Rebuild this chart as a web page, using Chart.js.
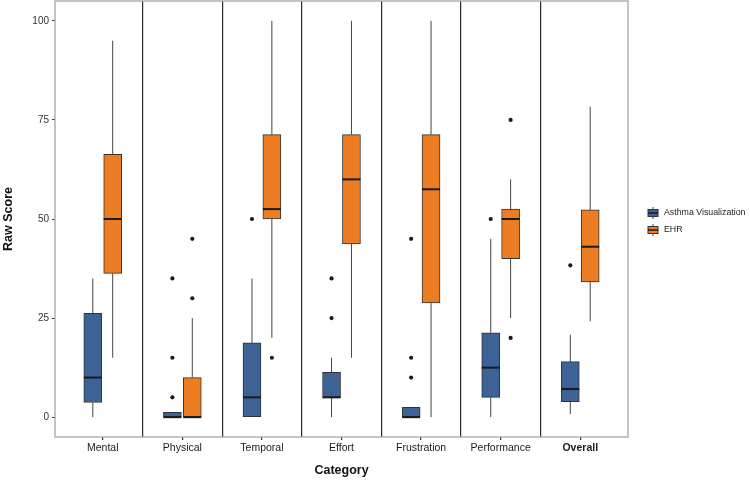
<!DOCTYPE html>
<html>
<head>
<meta charset="utf-8">
<script src="https://cdn.jsdelivr.net/npm/chart.js@4/dist/chart.umd.min.js"></script>
<style>
  html, body { margin: 0; padding: 0; background: #fff; }
  #wrap { width: 750px; height: 483px; }
</style>
</head>
<body>
<div id="wrap"><canvas id="chart" width="750" height="483"></canvas></div>
<script>
// categories and box statistics
var categories = ['Mental', 'Physical', 'Temporal', 'Effort', 'Frustration', 'Performance', 'Overall'];
var groupNames = ['Asthma Visualization', 'EHR'];
var yTicks = [0, 25, 50, 75, 100];

var asthmaMin    = [0, 0, 0, 0, 0, 0, 0.8];
var asthmaQ1     = [3.7, 0, 0, 5, 0, 5, 3.9];
var asthmaMedian = [10, 0, 5, 5, 0, 12.5, 7.1];
var asthmaQ3     = [26.2, 1.2, 18.75, 11.3, 2.5, 21.3, 14.0];
var asthmaMax    = [35, 1.2, 35, 15, 2.5, 45, 20.8];
var asthmaOutliers = [[], [35, 15, 5], [50], [35, 25], [45, 15, 10], [50], [38.3]];

var ehrMin    = [15, 0, 20, 15, 0, 25, 24.2];
var ehrQ1     = [36.3, 0, 50, 43.7, 28.8, 40, 34.1];
var ehrMedian = [50, 0, 52.5, 60, 57.5, 50, 43];
var ehrQ3     = [66.3, 10, 71.3, 71.3, 71.3, 52.5, 52.3];
var ehrMax    = [95, 25, 100, 100, 100, 60, 78.3];
var ehrOutliers = [[], [45, 30], [15], [], [], [75, 20], []];

var colors = ['#3c6296', '#ec7d23'];
var DODGE = 0.125;
var FONT = "'Liberation Sans', Arial, sans-serif";

var groups = [
  {min: asthmaMin, q1: asthmaQ1, med: asthmaMedian, q3: asthmaQ3, max: asthmaMax, out: asthmaOutliers, shift: -DODGE},
  {min: ehrMin, q1: ehrQ1, med: ehrMedian, q3: ehrQ3, max: ehrMax, out: ehrOutliers, shift: DODGE}
];

var datasets = [];
// outlier points first so they are drawn on top
groups.forEach(function(g, k){
  var pts = [];
  g.out.forEach(function(list, i){
    list.forEach(function(v){ pts.push({x: i + 1 + g.shift, y: v}); });
  });
  datasets.push({
    type: 'scatter', label: groupNames[k] + ' outliers', data: pts,
    pointRadius: 2.1, pointBackgroundColor: '#1a1a1a', pointBorderWidth: 0
  });
});
groups.forEach(function(g, k){
  datasets.push({
    type: 'bar', label: groupNames[k],
    data: categories.map(function(c, i){ return {x: i + 1 + g.shift, y: [g.q1[i], g.q3[i]]}; }),
    backgroundColor: colors[k], borderColor: '#333', borderWidth: 1, borderSkipped: false,
    barThickness: 18, maxBarThickness: 18, grouped: false
  });
});

var xTickValues = [];
for (var i = 1; i <= categories.length; i++) {
  xTickValues.push(i);
  if (i < categories.length) xTickValues.push(i + 0.5);
}

function barMeta(chart, k){ return chart.getDatasetMeta(groups.length + k); }

var boxParts = {
  id: 'boxParts',
  beforeDatasetsDraw: function(chart){
    var ctx = chart.ctx, y = chart.scales.y;
    ctx.save();
    ctx.strokeStyle = '#444';
    ctx.lineWidth = 1;
    groups.forEach(function(g, k){
      barMeta(chart, k).data.forEach(function(bar, i){
        ctx.beginPath();
        ctx.moveTo(bar.x, y.getPixelForValue(g.min[i]));
        ctx.lineTo(bar.x, y.getPixelForValue(g.q1[i]));
        ctx.moveTo(bar.x, y.getPixelForValue(g.q3[i]));
        ctx.lineTo(bar.x, y.getPixelForValue(g.max[i]));
        ctx.stroke();
      });
    });
    ctx.restore();
  },
  afterDatasetsDraw: function(chart){
    var ctx = chart.ctx, y = chart.scales.y, a = chart.chartArea;
    ctx.save();
    ctx.strokeStyle = '#1a1a1a';
    ctx.lineWidth = 2;
    groups.forEach(function(g, k){
      barMeta(chart, k).data.forEach(function(bar, i){
        var py = y.getPixelForValue(g.med[i]);
        ctx.beginPath();
        ctx.moveTo(bar.x - bar.width / 2, py);
        ctx.lineTo(bar.x + bar.width / 2, py);
        ctx.stroke();
      });
    });
    ctx.strokeStyle = '#a6a6a6';
    ctx.lineWidth = 1.3;
    ctx.strokeRect(a.left, a.top, a.right - a.left, a.bottom - a.top);
    ctx.restore();
  },
  afterDraw: function(chart){
    // ggplot style legend with boxplot keys
    var ctx = chart.ctx;
    ctx.save();
    groupNames.forEach(function(name, k){
      var cx = 653, cy = 213 + k * 17;
      ctx.strokeStyle = '#444';
      ctx.lineWidth = 1;
      ctx.beginPath();
      ctx.moveTo(cx, cy - 6); ctx.lineTo(cx, cy + 6);
      ctx.stroke();
      ctx.fillStyle = colors[k];
      ctx.fillRect(cx - 5, cy - 3.5, 10, 7);
      ctx.strokeStyle = '#333';
      ctx.strokeRect(cx - 5, cy - 3.5, 10, 7);
      ctx.strokeStyle = '#1a1a1a';
      ctx.lineWidth = 1.5;
      ctx.beginPath();
      ctx.moveTo(cx - 5, cy); ctx.lineTo(cx + 5, cy);
      ctx.stroke();
      ctx.fillStyle = '#222';
      ctx.font = '8.8px ' + FONT;
      ctx.textBaseline = 'middle';
      ctx.textAlign = 'left';
      ctx.fillText(name, 664, cy);
    });
    ctx.restore();
  }
};

function noEdgePadding(scale){
  scale.paddingTop = 0; scale.paddingBottom = 0;
  scale.paddingLeft = 0; scale.paddingRight = 0;
}

new Chart(document.getElementById('chart'), {
  type: 'bar',
  data: { datasets: datasets },
  options: {
    responsive: false,
    animation: false,
    layout: { autoPadding: false, padding: { top: 1, right: 122, left: 0, bottom: 0 } },
    plugins: { legend: { display: false }, tooltip: { enabled: false } },
    scales: {
      x: {
        type: 'linear', min: 0.4, max: 7.6, offset: false,
        afterBuildTicks: function(scale){ scale.ticks = xTickValues.map(function(v){ return {value: v}; }); },
        afterFit: function(scale){ scale.height = 46; noEdgePadding(scale); },
        ticks: {
          autoSkip: false, maxRotation: 0, padding: 2, color: '#1a1a1a',
          font: function(c){ return {family: FONT, size: 10.5, weight: (c.tick && c.tick.value === categories.length) ? 'bold' : 'normal'}; },
          callback: function(v){ return Number.isInteger(v) ? categories[v - 1] : ''; }
        },
        grid: {
          drawOnChartArea: true, tickLength: 3, lineWidth: 1.2, offset: false,
          color: function(c){ return (c.tick && !Number.isInteger(c.tick.value)) ? '#2a2a2a' : 'rgba(0,0,0,0)'; },
          tickColor: function(c){ return (c.tick && Number.isInteger(c.tick.value)) ? '#333' : 'rgba(0,0,0,0)'; }
        },
        border: { display: false },
        title: { display: true, text: 'Category', color: '#111', padding: { top: 0, bottom: 5 },
                 font: { family: FONT, size: 12.5, weight: 'bold' } }
      },
      y: {
        min: -5, max: 105,
        afterBuildTicks: function(scale){ scale.ticks = yTicks.map(function(v){ return {value: v}; }); },
        afterFit: function(scale){ scale.width = 55; noEdgePadding(scale); },
        ticks: { padding: 3, color: '#333', font: { family: FONT, size: 10 } },
        grid: { drawOnChartArea: false, tickLength: 3, tickColor: '#333' },
        border: { display: false },
        title: { display: true, text: 'Raw Score', color: '#111', padding: { top: 1, bottom: 0 },
                 font: { family: FONT, size: 12.5, weight: 'bold' } }
      }
    }
  },
  plugins: [boxParts]
});
</script>
</body>
</html>
